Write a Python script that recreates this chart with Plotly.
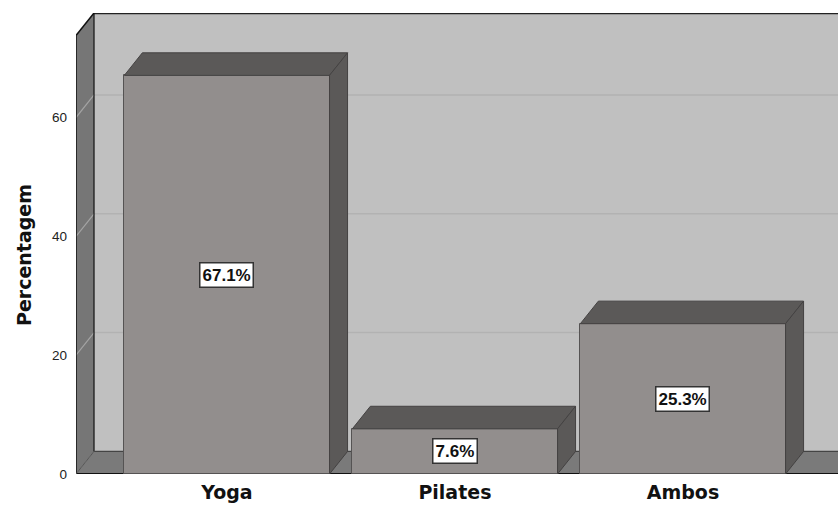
import plotly.graph_objects as go

categories = ["Yoga", "Pilates", "Ambos"]
percentages = [67.1, 7.6, 25.3]
value_labels = ["67.1%", "7.6%", "25.3%"]
y_ticks = [0, 20, 40, 60]

# 3D geometry (in data units)
X0, X1 = -0.662, 2.68          # x range (category index units)
Y_TOP_FRONT = 73.8             # top of the front plane
DDX, DDY = 0.079, 3.8          # depth offset towards back wall
BAR_W = 0.9
Y_MAX = Y_TOP_FRONT + DDY

xs = list(range(len(categories)))

fig = go.Figure()
fig.add_trace(go.Bar(
    x=xs, y=percentages, width=BAR_W,
    marker=dict(color="#928e8d", line=dict(color="#555353", width=1)),
    hoverinfo="skip", showlegend=False,
))

shapes = []
def poly(pts, fill, line="rgba(0,0,0,0)", width=0, layer="below"):
    path = "M " + " L ".join(f"{x},{y}" for x, y in pts) + " Z"
    shapes.append(dict(type="path", path=path, xref="x", yref="y",
                       fillcolor=fill, line=dict(color=line, width=width), layer=layer))
def seg(a, b, color, width, layer="below"):
    shapes.append(dict(type="line", x0=a[0], y0=a[1], x1=b[0], y1=b[1], xref="x", yref="y",
                       line=dict(color=color, width=width), layer=layer))

XR = X1 + 1
# back wall
poly([(X0 + DDX, DDY), (XR, DDY), (XR, Y_MAX), (X0 + DDX, Y_MAX)], "#c0c0c0")
# left side wall
poly([(X0, 0), (X0, Y_TOP_FRONT), (X0 + DDX, Y_MAX), (X0 + DDX, DDY)], "#767676")
# floor
poly([(X0, 0), (XR, 0), (XR + DDX, DDY), (X0 + DDX, DDY)], "#7a7a7a")

# gridlines on back wall and side wall
for v in y_ticks[1:]:
    seg((X0 + DDX, v + DDY), (XR, v + DDY), "#b2b2b2", 1.5)
    seg((X0, v), (X0 + DDX, v + DDY), "#a4a4a4", 1.2)

# wall edges
seg((X0, 0), (X0, Y_TOP_FRONT), "#111111", 1.5)
seg((X0, Y_TOP_FRONT), (X0 + DDX, Y_MAX), "#111111", 1.5)
seg((X0 + DDX, Y_MAX), (XR, Y_MAX), "#222222", 2.5)
seg((X0 + DDX, DDY), (X0 + DDX, Y_MAX), "#111111", 1.2)
seg((X0 + DDX, DDY), (XR, DDY), "#444444", 1.2)
seg((X0, 0), (XR, 0), "#111111", 2)
seg((X0, 0), (X0 + DDX, DDY), "#555555", 1)

# bar top and side faces
for x, v in zip(xs, percentages):
    l, r = x - BAR_W / 2, x + BAR_W / 2
    poly([(l, v), (r, v), (r + DDX, v + DDY), (l + DDX, v + DDY)], "#5b5958", "#444242", 1, "above")
    poly([(r, 0), (r, v), (r + DDX, v + DDY), (r + DDX, DDY)], "#5b5958", "#444242", 1, "above")

annotations = []
for x, v, t in zip(xs, percentages, value_labels):
    annotations.append(dict(
        x=x, y=v / 2, xref="x", yref="y", text=f"<b>{t}</b>", showarrow=False,
        font=dict(family="Liberation Sans Narrow, Arial Narrow, Liberation Sans", size=17, color="#111111"),
        bgcolor="#ffffff", bordercolor="#333333", borderwidth=1.5, borderpad=2,
    ))
annotations.append(dict(
    x=-52 / 762, y=0.475, xref="paper", yref="paper", text="<b>Percentagem</b>",
    textangle=-90, showarrow=False, xanchor="center", yanchor="middle",
    font=dict(family="DejaVu Sans", size=19, color="#111111"),
))

fig.update_layout(
    width=838, height=506,
    margin=dict(l=76, r=0, t=13, b=32),
    paper_bgcolor="#ffffff", plot_bgcolor="#ffffff",
    shapes=shapes, annotations=annotations,
    showlegend=False, bargap=0,
)
fig.update_xaxes(
    range=[X0, X1], tickvals=xs, ticktext=[f"<b>{c}</b>" for c in categories],
    showgrid=False, zeroline=False, showline=False, ticks="",
    tickfont=dict(family="DejaVu Sans", size=19, color="#111111"),
    ticklabelstandoff=5, fixedrange=True,
)
fig.update_yaxes(
    range=[0, Y_MAX], tickvals=y_ticks, ticktext=[str(t) for t in y_ticks],
    showgrid=False, zeroline=False, showline=False, ticks="",
    tickfont=dict(family="Liberation Sans, Arial", size=13.5, color="#222222"),
    ticklabelstandoff=8, fixedrange=True,
)

fig.write_html("out.html")
